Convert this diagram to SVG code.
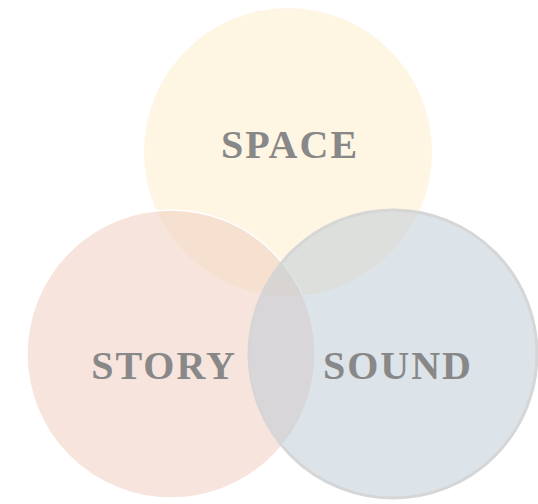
<svg xmlns="http://www.w3.org/2000/svg" width="538" height="504" viewBox="0 0 538 504">
<style>
.lbl{font-family:"Liberation Serif","Times New Roman",serif;font-weight:bold;font-size:40px;fill:#888888;text-anchor:middle;letter-spacing:2px}
</style>
<rect width="538" height="504" fill="#ffffff"/>
<g id="space">
<circle cx="288" cy="152" r="144" fill="#fdedc7" fill-opacity="0.5"/>
<text class="lbl" x="290" y="158">SPACE</text>
</g>
<g id="story">
<circle cx="171" cy="354" r="144" fill="#edc9bb" fill-opacity="0.5" stroke="#ffffff" stroke-width="1.5"/>
</g>
<g id="sound">
<circle cx="393" cy="354" r="144" fill="#b9c7d3" fill-opacity="0.5" stroke="#d6d6d6" stroke-width="3"/>
</g>
<g id="labels">
<text class="lbl" x="164" y="379">STORY</text>
<text class="lbl" x="398" y="379">SOUND</text>
</g>
<g id="connectors"/>
</svg>
